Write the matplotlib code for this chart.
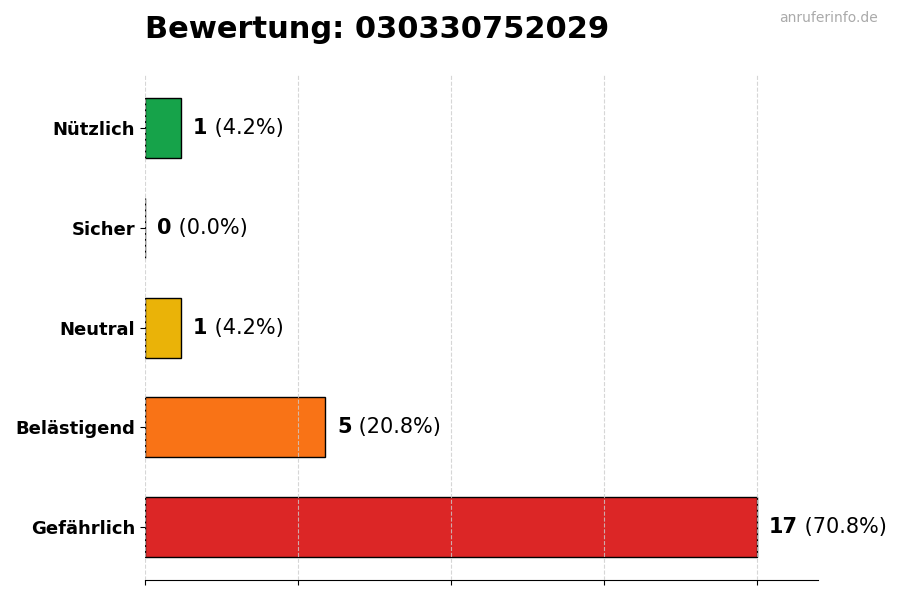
import matplotlib.pyplot as plt
import numpy as np

# Daten
categories = ['Gefährlich', 'Belästigend', 'Neutral', 'Sicher', 'Nützlich']
counts = [17, 5, 1, 0, 1]
colors = ['#dc2626', '#f97316', '#eab308', '#6b7280', '#16a34a']
title = 'Bewertung: 030330752029'

total = sum(counts)
max_val = max(counts)

fig, ax = plt.subplots(figsize=(9, 6), dpi=100)
fig.subplots_adjust(left=0.161, right=0.909, top=0.875, bottom=0.033)

y = np.arange(len(categories))
ax.barh(y, counts, height=0.6, color=colors, edgecolor='black', linewidth=1)

ax.set_yticks(y)
ax.set_yticklabels(categories, fontsize=13, fontweight='bold')
ax.set_xlim(0, max_val * 1.1)
ax.set_xticks(np.linspace(0, max_val, 5))
ax.set_xticklabels([])

ax.grid(axis='x', linestyle='--', color='#cccccc', alpha=0.8, linewidth=0.8)
ax.set_axisbelow(False)
for s in ['top', 'right', 'left']:
    ax.spines[s].set_visible(False)

# Wertbeschriftungen: Zahl fett, Prozent normal
for yi, c in zip(y, counts):
    t = ax.text(c + max_val * 0.02, yi, str(c), fontsize=15, fontweight='bold',
                va='center', ha='left')
    ax.annotate(f' ({c / total * 100:.1f}%)', xy=(1, 0), xycoords=t,
                fontsize=15, va='bottom', ha='left')

fig.text(0.161, 0.95, title, fontsize=22, fontweight='bold', ha='left', va='center')
fig.text(0.975, 0.97, 'anruferinfo.de', fontsize=10, color='#aaaaaa', ha='right', va='center')

fig.savefig('out.png', dpi=100)
